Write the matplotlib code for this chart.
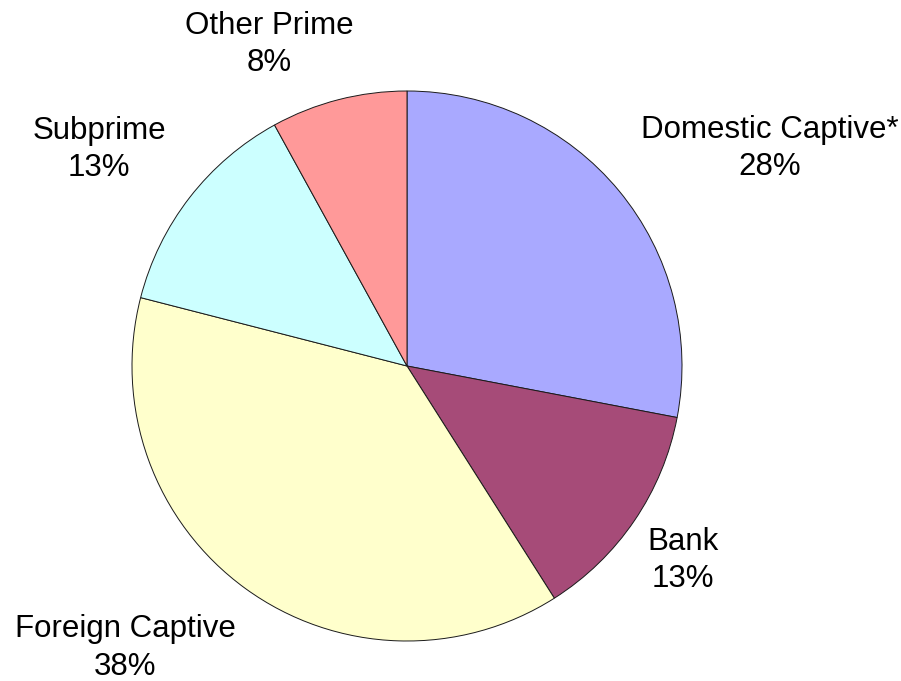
import matplotlib
matplotlib.use('Agg')
from matplotlib import pyplot as plt

plt.rcParams['font.family'] = ['Liberation Sans', 'DejaVu Sans']

# lender share, clockwise from 12 o'clock
categories = ['Domestic Captive*', 'Bank', 'Foreign Captive', 'Subprime', 'Other Prime']
shares = [28, 13, 38, 13, 8]

colors = ['#A9A9FF', '#A64B78', '#FFFFCC', '#CCFFFF', '#FF9999']

# label centres in pie-radius units
label_pos = [(1.32, 0.79), (1.004, -0.707), (-1.025, -1.025), (-1.12, 0.788), (-0.50, 1.17)]

W, H = 901, 681
cx, cy, r = 407, 366, 275

fig = plt.figure(figsize=(W / 100, H / 100), dpi=100)
ax = fig.add_axes([0, 0, 1, 1])

ax.pie(shares, colors=colors, startangle=90, counterclock=False,
       wedgeprops=dict(edgecolor='#1a1a1a', linewidth=0.7))

for name, val, (x, y) in zip(categories, shares, label_pos):
    ax.text(x, y, '%s\n%d%%' % (name, val), ha='center', va='center',
            fontsize=22.5, linespacing=1.32, color='black')

ax.set_xlim(-cx / r, (W - cx) / r)
ax.set_ylim(-(H - cy) / r, cy / r)
ax.axis('off')

plt.savefig('out.png', dpi=100)
